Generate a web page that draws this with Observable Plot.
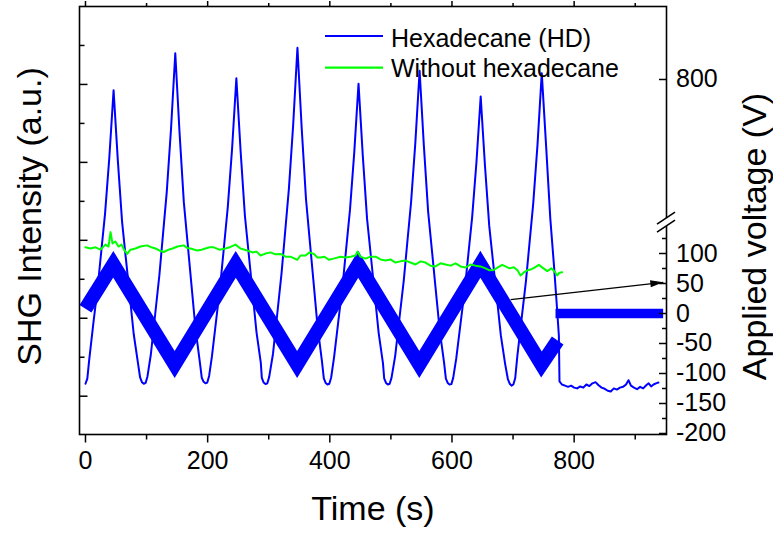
<!DOCTYPE html>
<html>
<head>
<meta charset="utf-8">
<script src="https://cdn.jsdelivr.net/npm/d3@7"></script>
<script src="https://cdn.jsdelivr.net/npm/@observablehq/plot@0.6"></script>
<style>
  html, body { margin: 0; padding: 0; background: #fff; }
  #wrap { position: relative; width: 773px; height: 535px; }
</style>
</head>
<body>
<div id="wrap"></div>
<script>
// ---------- DATA ----------
const seriesNames = ["Hexadecane (HD)", "Without hexadecane"];

// SHG intensity with hexadecane (a.u.)
const shgTime = [
  0, 3, 6,
  13, 20, 26, 32, 39, 46, 53, 60, 66, 72, 79, 86,
  89.4, 92.4, 95.4, 98.4, 101.4,
  107, 114, 121, 127, 133, 140, 147, 154, 161, 167, 173, 180, 187,
  190.4, 193.4, 196.4, 199.4, 202.4,
  207, 214, 221, 227, 233, 240, 247, 254, 261, 267, 273, 280, 287,
  288.7, 291.7, 294.7, 297.7, 300.7,
  307, 314, 321, 327, 333, 340, 347, 354, 361, 367, 373, 380, 387,
  390.2, 393.2, 396.2, 399.2, 402.2,
  407, 414, 421, 427, 433, 440, 447, 454, 461, 467, 473, 480, 487,
  489, 492, 495, 498, 501,
  507, 514, 521, 527, 533, 540, 547, 554, 561, 567, 573, 580, 587,
  590, 593, 596, 599, 602,
  607, 614, 621, 627, 633, 640, 647, 654, 661, 667, 673, 680, 687,
  691.5, 694.5, 697.5, 700.5, 703.5,
  707, 714, 721, 727, 733, 740, 747, 754, 761, 767, 772, 775, 776,
  780, 785, 790, 795, 800, 805, 810, 815, 820, 825, 830, 835, 840, 845, 850, 855, 860,
  865, 870, 875, 880, 885, 889, 893, 898, 903, 908, 913, 918, 922, 926, 930, 934, 938
];
const shgValue = [
  0.32, 0.45, 0.92,
  1.89, 2.80, 3.74, 4.68, 6.12, 7.85, 6.04, 4.46, 3.55, 2.65, 1.59, 0.84,
  0.48, 0.36, 0.32, 0.34, 0.50,
  1.07, 2.09, 3.11, 4.17, 5.23, 6.85, 8.80, 6.76, 4.98, 3.96, 2.94, 1.75, 0.90,
  0.47, 0.37, 0.33, 0.35, 0.52,
  1.02, 1.96, 2.90, 3.88, 4.86, 6.35, 8.16, 6.28, 4.63, 3.69, 2.74, 1.64, 0.86,
  0.47, 0.35, 0.31, 0.33, 0.49,
  1.09, 2.12, 3.16, 4.24, 5.32, 6.96, 8.94, 6.87, 5.06, 4.02, 2.99, 1.78, 0.91,
  0.46, 0.34, 0.30, 0.32, 0.48,
  1.00, 1.93, 2.85, 3.82, 4.78, 6.25, 8.02, 6.17, 4.55, 3.63, 2.70, 1.62, 0.85,
  0.46, 0.34, 0.30, 0.32, 0.47,
  1.03, 2.00, 2.96, 3.97, 4.97, 6.50, 8.35, 6.42, 4.73, 3.77, 2.80, 1.68, 0.87,
  0.45, 0.34, 0.30, 0.31, 0.47,
  0.97, 1.86, 2.75, 3.67, 4.59, 5.99, 7.69, 5.92, 4.37, 3.48, 2.60, 1.56, 0.83,
  0.44, 0.32, 0.27, 0.30, 0.46,
  1.03, 1.99, 2.94, 3.94, 4.94, 6.45, 8.29, 6.45, 4.55, 3.35, 2.25, 1.55, 0.38,
  0.30, 0.27, 0.24, 0.27, 0.22, 0.20, 0.25, 0.22, 0.30, 0.26, 0.33, 0.36, 0.28, 0.22, 0.19, 0.14, 0.12,
  0.20, 0.17, 0.22, 0.24, 0.30, 0.41, 0.27, 0.22, 0.18, 0.24, 0.20, 0.28, 0.33, 0.25, 0.30, 0.33, 0.35
];

// SHG intensity without hexadecane (a.u.)
const greenTime = [
  0, 8, 16.4, 24.6, 32.7, 37.7, 41, 44.2, 49, 54,
  59, 63.9, 68.3, 73.7, 81.9, 90, 101, 108, 114.6, 121,
  128.2, 135.9, 142.4, 150.6, 161, 167, 171.9, 182.9, 190, 196.5,
  203, 210, 219.4, 229.2, 237.4, 245.6, 253.8, 264.7, 273.4, 280,
  286.5, 294.7, 302.9, 311, 319.3, 327.4, 335.6, 346.6, 352, 360.2,
  366.7, 373.8, 379.8, 384.7, 391.3, 398.3, 406, 417.5, 425.7, 433.9,
  442, 445.3, 450.2, 458.4, 466.6, 474.8, 483, 491.2, 499.3, 507.5,
  515.7, 523.9, 532, 540.3, 548.5, 556.6, 564.8, 573, 581.2, 589.4,
  597.6, 605.8, 614, 622.1, 630.3, 638.5, 646.7, 654.9, 661.4, 668.5,
  674.5, 682.2, 687.6, 694.2, 701.2, 707.3, 712.2, 717.1, 723.2, 728.6,
  735.1, 742.2, 748.2, 755.9, 763, 767.8, 772.3, 776, 780.4
];
const greenValue = [
  3.82, 3.79, 3.82, 3.76, 3.89, 3.84, 4.21, 3.92, 3.97, 3.84,
  3.89, 3.74, 3.65, 3.76, 3.79, 3.84, 3.87, 3.82, 3.79, 3.74,
  3.70, 3.76, 3.79, 3.84, 3.87, 3.80, 3.79, 3.74, 3.76, 3.79,
  3.82, 3.82, 3.76, 3.79, 3.83, 3.89, 3.79, 3.74, 3.69, 3.71,
  3.61, 3.66, 3.69, 3.64, 3.65, 3.58, 3.58, 3.50, 3.61, 3.61,
  3.69, 3.65, 3.56, 3.56, 3.58, 3.50, 3.53, 3.58, 3.56, 3.58,
  3.61, 3.71, 3.58, 3.53, 3.58, 3.58, 3.51, 3.48, 3.51, 3.43,
  3.46, 3.48, 3.43, 3.38, 3.46, 3.43, 3.35, 3.33, 3.41, 3.38,
  3.35, 3.41, 3.33, 3.30, 3.38, 3.35, 3.33, 3.28, 3.23, 3.24,
  3.30, 3.37, 3.33, 3.28, 3.31, 3.23, 3.10, 3.17, 3.23, 3.25,
  3.30, 3.37, 3.30, 3.21, 3.28, 3.20, 3.10, 3.17, 3.18
];

// Applied voltage (V): triangular sweep, then held at 0 V
const voltTime  = [0, 45.5, 146, 246, 346.5, 446.5, 546.5, 646.5, 746.5, 773];
const voltValue = [8, 82, -85, 82, -85, 82, -85, 82, -85, -45];
const holdTime  = [769.5, 945.7];
const holdValue = [0, 0];

// Arrow annotation (time s, voltage V)
const arrowFrom = [696, 23];
const arrowTo   = [946, 52];

// Ticks
const xMajorTicks = [0, 200, 400, 600, 800];
const xMinorTicks = [100, 300, 500, 700, 900];
const leftMajorTicks = [0, 2, 4, 6, 8];
const leftMinorTicks = [1, 3, 5, 7, 9];
const voltMajorTicks = [-200, -150, -100, -50, 0, 50, 100];
const voltMinorTicks = [-175, -125, -75, -25, 25, 75, 125];
const voltUpperTicks = [800];
const axisBreakVolts = [145, 568];

// ---------- right (voltage) axis mapping onto the a.u. scale (broken axis) ----------
const AU_PER_VOLT = 0.015396;
const LOWER_ZERO_AU = 2.122;   // 0 V
const UPPER_800_AU = 8.127;    // 800 V
function voltToAu(v) {
  return v > 400 ? UPPER_800_AU + (v - 800) * AU_PER_VOLT : LOWER_ZERO_AU + v * AU_PER_VOLT;
}

const FONT = "'Liberation Sans', Arial, Helvetica, sans-serif";
const BLUE = "#0000ff", GREEN = "#00ff00";

const shg = shgTime.map((t, i) => ({time: t, value: shgValue[i]}));
const green = greenTime.map((t, i) => ({time: t, value: greenValue[i]}));
const volt = voltTime.map((t, i) => ({time: t, au: voltToAu(voltValue[i])}));
const hold = holdTime.map((t, i) => ({time: t, au: voltToAu(holdValue[i])}));
const arrow = [{x1: arrowFrom[0], y1: voltToAu(arrowFrom[1]), x2: arrowTo[0], y2: voltToAu(arrowTo[1])}];

// filled arrow head symbol (tip at origin)
const HEAD_ANGLE = -6.5 * Math.PI / 180;
const arrowHead = {
  draw(ctx) {
    const pts = [[0, 0], [-13, -3.6], [-13, 3.6]].map(([px, py]) => [
      px * Math.cos(HEAD_ANGLE) - py * Math.sin(HEAD_ANGLE),
      px * Math.sin(HEAD_ANGLE) + py * Math.cos(HEAD_ANGLE)
    ]);
    ctx.moveTo(pts[0][0], pts[0][1]);
    ctx.lineTo(pts[1][0], pts[1][1]);
    ctx.lineTo(pts[2][0], pts[2][1]);
    ctx.closePath();
  }
};

const rightLabelTicks = [...voltMajorTicks, ...voltUpperTicks];
const rightLabelMap = new Map(rightLabelTicks.map(v => [voltToAu(v), String(v)]));

const chart = Plot.plot({
  width: 773,
  height: 535,
  marginLeft: 79,
  marginRight: 107,
  marginTop: 6,
  marginBottom: 101,
  style: {fontFamily: FONT, fontSize: "25px", color: "#000", background: "#fff", overflow: "visible"},
  x: {domain: [-9.8, 951.2]},
  y: {domain: [-0.983, 10]},
  marks: [
    Plot.line(volt, {x: "time", y: "au", stroke: BLUE, strokeWidth: 14, strokeLinejoin: "miter", strokeLinecap: "butt", strokeMiterlimit: 10}),
    Plot.line(hold, {x: "time", y: "au", stroke: BLUE, strokeWidth: 9.5, strokeLinecap: "butt"}),
    Plot.line(shg, {x: "time", y: "value", stroke: BLUE, strokeWidth: 2}),
    Plot.line(green, {x: "time", y: "value", stroke: GREEN, strokeWidth: 2}),
    Plot.link(arrow, {x1: "x1", y1: "y1", x2: "x2", y2: "y2", stroke: "#000", strokeWidth: 1.3}),
    Plot.dot(arrow, {x: "x2", y: "y2", symbol: arrowHead, r: 5, fill: "#000", stroke: null}),
    Plot.frame({stroke: "#000", strokeWidth: 1.6}),
    // bottom axis
    Plot.axisX({anchor: "bottom", ticks: xMajorTicks, tickSize: 8.5, tickPadding: 8, strokeWidth: 1.5, tickFormat: d => String(d), label: null}),
    Plot.axisX({anchor: "bottom", ticks: xMinorTicks, tickSize: 5.5, strokeWidth: 1.5, tickFormat: () => "", label: null}),
    // top axis ticks
    Plot.axisX({anchor: "top", ticks: xMajorTicks, tickSize: 6, strokeWidth: 1.5, tickFormat: () => "", label: null}),
    Plot.axisX({anchor: "top", ticks: xMinorTicks, tickSize: 4, strokeWidth: 1.5, tickFormat: () => "", label: null}),
    // left axis (inward ticks, no labels)
    Plot.axisY({anchor: "left", ticks: leftMajorTicks, tickSize: 8.5, dx: 8.5, strokeWidth: 1.5, tickFormat: () => "", label: null}),
    Plot.axisY({anchor: "left", ticks: leftMinorTicks, tickSize: 5.5, dx: 5.5, strokeWidth: 1.5, tickFormat: () => "", label: null}),
    // right axis (voltage, inward ticks)
    Plot.axisY({anchor: "right", ticks: rightLabelTicks.map(voltToAu), tickSize: 8, dx: -8, strokeWidth: 1.5, tickFormat: () => "", label: null}),
    Plot.axisY({anchor: "right", ticks: voltMinorTicks.map(voltToAu), tickSize: 5, dx: -5, strokeWidth: 1.5, tickFormat: () => "", label: null}),
    Plot.axisY({anchor: "right", ticks: rightLabelTicks.map(voltToAu), tickSize: 0, tickPadding: 9.5, tickFormat: d => rightLabelMap.get(d), label: null}),
    // axis titles
    Plot.text(["Time (s)"], {text: d => d, frameAnchor: "bottom", textAnchor: "middle", lineAnchor: "middle", dy: 75, fontSize: 34}),
    Plot.text(["SHG Intensity (a.u.)"], {text: d => d, frameAnchor: "left", textAnchor: "middle", lineAnchor: "middle", dx: -49, dy: -4, rotate: -90, fontSize: 34}),
    Plot.text(["Applied voltage (V)"], {text: d => d, frameAnchor: "right", textAnchor: "middle", lineAnchor: "middle", dx: 89, dy: 16, rotate: -90, fontSize: 34})
  ]
});

document.getElementById("wrap").appendChild(chart);

// ---------- axis break on the right axis ----------
const svg = d3.select(chart);
const yS = chart.scale("y"), xS = chart.scale("x");
const xr = xS.range[1];
const yUp = yS.apply(voltToAu(axisBreakVolts[1]));
const yLo = yS.apply(voltToAu(axisBreakVolts[0]));
svg.append("line").attr("x1", xr).attr("x2", xr).attr("y1", yUp).attr("y2", yLo)
  .attr("stroke", "#fff").attr("stroke-width", 4);
for (const yy of [yUp, yLo]) {
  svg.append("line").attr("x1", xr - 9).attr("y1", yy + 6).attr("x2", xr + 9).attr("y2", yy - 6)
    .attr("stroke", "#000").attr("stroke-width", 1.5);
}

// ---------- legend (inside plot, top right) ----------
const lg = svg.append("g").attr("font-family", FONT).attr("font-size", 25).attr("fill", "#000").attr("text-anchor", "start");
[[36, BLUE, seriesNames[0], 46.5], [67.7, GREEN, seriesNames[1], 77]].forEach(([ly, col, name, ty]) => {
  lg.append("line").attr("x1", 325).attr("x2", 383).attr("y1", ly).attr("y2", ly)
    .attr("stroke", col).attr("stroke-width", 2.2);
  lg.append("text").attr("x", 391).attr("y", ty).attr("text-anchor", "start").text(name);
});
</script>
</body>
</html>
